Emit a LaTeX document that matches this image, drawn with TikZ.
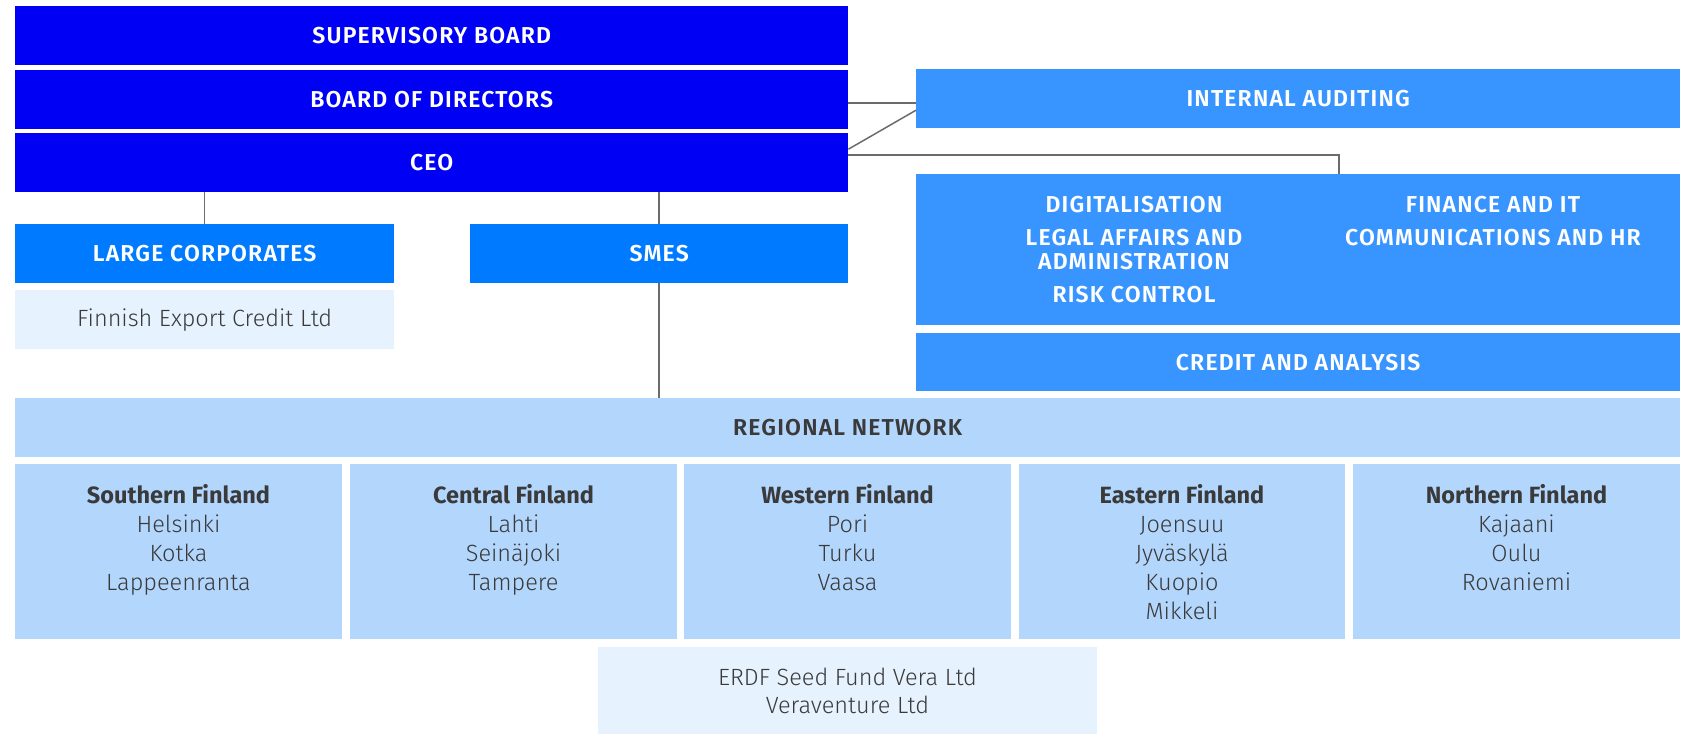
\documentclass[tikz,border=0pt]{standalone}
\usepackage{fontspec}
\setmainfont{Fira Sans}
\newfontfamily\hdfont{Fira Sans SemiBold}[LetterSpace=5]
\newfontfamily\ltfont{Fira Sans Light}
\definecolor{cDark}{HTML}{0000F5}
\definecolor{cMid}{HTML}{007BFF}
\definecolor{cLight}{HTML}{3895FF}
\definecolor{cReg}{HTML}{B3D6FD}
\definecolor{cPale}{HTML}{E6F2FE}
\definecolor{cTxt}{HTML}{3A3A3A}
\definecolor{cLine}{HTML}{6B6B6B}
\tikzset{
  box/.style={draw=none, inner sep=0pt, anchor=north west},
  hd/.style={font=\hdfont\fontsize{23}{27}\selectfont, text=white},
  hdark/.style={font=\hdfont\fontsize{23}{27}\selectfont, text=cTxt},
  lt/.style={font=\ltfont\fontsize{23.5}{29}\selectfont, text=cTxt},
  rname/.style={font=\bfseries\fontsize{23.5}{29}\selectfont, text=cTxt, anchor=base, inner sep=0pt},
  rcity/.style={font=\ltfont\fontsize{23.5}{29}\selectfont, text=cTxt, anchor=base, inner sep=0pt},
  hline/.style={font=\hdfont\fontsize{23}{27}\selectfont, text=white, inner sep=0pt},
  conn/.style={draw=cLine, line width=1.5pt},
}
\begin{document}
\begin{tikzpicture}[x=1pt,y=-1pt]
\useasboundingbox (0,0) rectangle (1683,734);
% left column
\node[box, hd, fill=cDark, minimum width=833pt, minimum height=59pt] (sup) at (15,6) {SUPERVISORY BOARD};
\node[box, hd, fill=cDark, minimum width=833pt, minimum height=59pt] (bod) at (15,70) {BOARD OF DIRECTORS};
\node[box, hd, fill=cDark, minimum width=833pt, minimum height=59pt] (ceo) at (15,133) {CEO};
\node[box, hd, fill=cMid, minimum width=379pt, minimum height=59pt] (lc) at (15,224) {LARGE CORPORATES};
\node[box, lt, fill=cPale, minimum width=379pt, minimum height=59pt] (fec) at (15,290) {Finnish Export Credit Ltd};
\node[box, hd, fill=cMid, minimum width=378pt, minimum height=59pt] (smes) at (470,224) {SMES};
% right column
\node[box, hd, fill=cLight, minimum width=764pt, minimum height=59pt] (ia) at (916,69) {INTERNAL AUDITING};
\node[box, fill=cLight, minimum width=764pt, minimum height=151pt] (dig) at (916,174) {};
\node[box, hd, fill=cLight, minimum width=764pt, minimum height=58pt] (cred) at (916,333) {CREDIT AND ANALYSIS};
\node[hline] (d1) at (1134,205) {DIGITALISATION};
\node[hline] (d2) at (1134,238) {LEGAL AFFAIRS AND};
\node[hline] (d3) at (1134,262) {ADMINISTRATION};
\node[hline] (d4) at (1134,295) {RISK CONTROL};
\node[hline] (d5) at (1493,205) {FINANCE AND IT};
\node[hline] (d6) at (1493,238) {COMMUNICATIONS AND HR};
% regional network
\node[box, hdark, fill=cReg, minimum width=1665pt, minimum height=59pt] (reg) at (15,398) {REGIONAL NETWORK};
\node[box, fill=cReg, minimum width=327pt, minimum height=175pt] (rs) at (15,464) {};
\node[box, fill=cReg, minimum width=327pt, minimum height=175pt] (rc) at (350,464) {};
\node[box, fill=cReg, minimum width=327pt, minimum height=175pt] (rw) at (684,464) {};
\node[box, fill=cReg, minimum width=326pt, minimum height=175pt] (re) at (1019,464) {};
\node[box, fill=cReg, minimum width=327pt, minimum height=175pt] (rn) at (1353,464) {};
% region texts
\node[rname] (s0) at (178.5,503) {Southern Finland};
\node[rcity] (s1) at (178.5,532) {Helsinki};
\node[rcity] (s2) at (178.5,561) {Kotka};
\node[rcity] (s3) at (178.5,590) {Lappeenranta};
\node[rname] (c0) at (513.5,503) {Central Finland};
\node[rcity] (c1) at (513.5,532) {Lahti};
\node[rcity] (c2) at (513.5,561) {Seinäjoki};
\node[rcity] (c3) at (513.5,590) {Tampere};
\node[rname] (w0) at (847.5,503) {Western Finland};
\node[rcity] (w1) at (847.5,532) {Pori};
\node[rcity] (w2) at (847.5,561) {Turku};
\node[rcity] (w3) at (847.5,590) {Vaasa};
\node[rname] (e0) at (1182,503) {Eastern Finland};
\node[rcity] (e1) at (1182,532) {Joensuu};
\node[rcity] (e2) at (1182,561) {Jyväskylä};
\node[rcity] (e3) at (1182,590) {Kuopio};
\node[rcity] (e4) at (1182,619) {Mikkeli};
\node[rname] (n0) at (1516.5,503) {Northern Finland};
\node[rcity] (n1) at (1516.5,532) {Kajaani};
\node[rcity] (n2) at (1516.5,561) {Oulu};
\node[rcity] (n3) at (1516.5,590) {Rovaniemi};
% ERDF
\node[box, fill=cPale, minimum width=499pt, minimum height=87pt] (erdf) at (598,647) {};
\node[rcity] (f1) at (847.5,685) {ERDF Seed Fund Vera Ltd};
\node[rcity] (f2) at (847.5,713) {Veraventure Ltd};
% connectors
\draw[conn] (ceo.south -| lc.north) -- (lc.north);
\draw[conn] (ceo.south -| smes.north) -- (smes.north);
\draw[conn] (smes.south) -- (smes.south |- reg.north);
\draw[conn] ([yshift=-3.5pt]bod.east) -- ([yshift=-3.5pt]bod.east -| ia.west);
\draw[conn] ([yshift=13.5pt]ceo.east) -- ([yshift=-11.5pt]ia.west);
\draw[conn] ([yshift=7.5pt]ceo.east) -| ([xshift=41pt]dig.north);
\end{tikzpicture}
\end{document}
